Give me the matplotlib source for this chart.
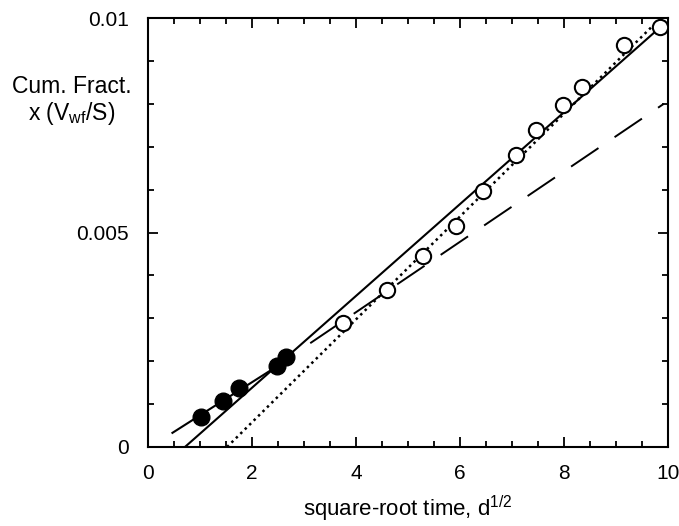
import numpy as np
import matplotlib
matplotlib.use('Agg')
import matplotlib.pyplot as plt
from matplotlib.ticker import MultipleLocator

plt.rcParams['font.family'] = ['Liberation Sans', 'DejaVu Sans']
plt.rcParams['mathtext.fontset'] = 'custom'
plt.rcParams['mathtext.rm'] = 'Liberation Sans'
plt.rcParams['mathtext.it'] = 'Liberation Sans'

# filled circles (early samples)
x_filled = [1.02, 1.44, 1.75, 2.48, 2.65]
y_filled = [0.0007, 0.00107, 0.00138, 0.00189, 0.0021]

# open circles (later samples)
x_open = [3.75, 4.6, 5.29, 5.92, 6.44, 7.08, 7.46, 7.98, 8.35, 9.15, 9.85]
y_open = [0.00289, 0.00366, 0.00445, 0.00515, 0.00597, 0.0068, 0.00739,
          0.00797, 0.00839, 0.00937, 0.00979]

# fitted lines (end points)
short_x = [0.47, 2.7]
short_y = [0.00033, 0.00205]
solid_x = [0.71, 9.94]
solid_y = [0.0, 0.00988]
dotted_x = [1.52, 9.8]
dotted_y = [0.0, 0.00993]
dashed_x = [3.12, 9.92]
dashed_y = [0.00242, 0.0080]

fig = plt.figure(figsize=(6.79, 5.26), dpi=100)
ax = fig.add_axes([148 / 679, 79 / 526, 520 / 679, 429 / 526])

ax.plot(short_x, short_y, color='black', lw=1.5)
ax.plot(solid_x, solid_y, color='black', lw=1.5)
ax.plot(dotted_x, dotted_y, color='black', lw=1.8, linestyle=(0, (1, 1.5)))
ax.plot(dashed_x, dashed_y, color='black', lw=1.4, linestyle=(0, (17, 10)))

ax.plot(x_filled, y_filled, 'o', ms=12, mfc='black', mec='black', zorder=3)
ax.plot(x_open, y_open, 'o', ms=11, mfc='white', mec='black', mew=1.5, zorder=3)

ax.set_xlim(0, 10)
ax.set_ylim(0, 0.01)
ax.xaxis.set_major_locator(MultipleLocator(2))
ax.xaxis.set_minor_locator(MultipleLocator(0.5))
ax.yaxis.set_major_locator(MultipleLocator(0.005))
ax.yaxis.set_minor_locator(MultipleLocator(0.001))
ax.set_xticks([0, 2, 4, 6, 8, 10])
ax.set_xticklabels(['0', '2', '4', '6', '8', '10'])
ax.set_yticks([0, 0.005, 0.01])
ax.set_yticklabels(['0', '0.005', '0.01'])

for s in ax.spines.values():
    s.set_linewidth(1.5)
ax.tick_params(which='both', direction='in', top=True, right=True, width=1.3,
               labelsize=15)
ax.tick_params(axis='x', which='major', pad=12)
ax.tick_params(axis='y', which='major', pad=14)
ax.tick_params(which='major', length=7)
ax.tick_params(which='minor', length=4)

ax.set_xlabel('square-root time, d$^{1/2}$', fontsize=16, labelpad=8)
fig.text(72 / 679, 1 - 101 / 526, 'Cum. Fract.\nx (V$_{\\rm wf}$/S)',
         ha='center', va='center', fontsize=16.5, linespacing=1.1)

fig.savefig('out.png', dpi=100)
